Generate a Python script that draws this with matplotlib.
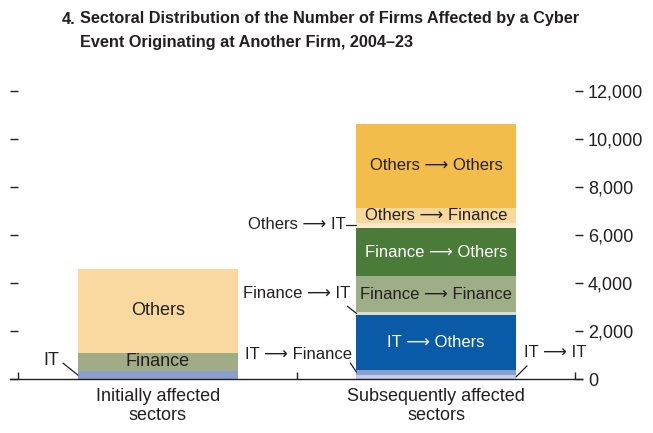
import matplotlib
matplotlib.use("Agg")
import matplotlib.pyplot as plt
import numpy as np

plt.rcParams['font.family'] = ['Liberation Sans', 'DejaVu Sans']

# data
categories = ['Initially affected\nsectors', 'Subsequently affected\nsectors']
left_labels = ['IT', 'Finance', 'Others']
left_values = [350, 760, 3490]
left_colors = ['#8b9fce', '#a0ac86', '#f9d9a0']

right_labels = ['IT ⟶ IT', 'IT ⟶ Finance', 'IT ⟶ Others',
                'Finance ⟶ IT', 'Finance ⟶ Finance', 'Finance ⟶ Others',
                'Others ⟶ IT', 'Others ⟶ Finance', 'Others ⟶ Others']
right_values = [200, 200, 2290, 120, 1490, 2000, 220, 625, 3490]
right_colors = ['#c6cde9', '#8a9fd0', '#0a5ba7',
                '#dcdfcd', '#9eae86', '#4a7b39',
                '#fde9cb', '#f9d89d', '#f3bd4b']

yticks = [0, 2000, 4000, 6000, 8000, 10000, 12000]

fig = plt.figure(figsize=(6.53, 4.33), dpi=100)
ax = fig.add_axes([0.0283, 0.124, 0.853, 0.665])

w = 0.573
hw = w / 2
fs = 13
afs = 12  # labels with arrows
txt = '#231f20'

bottom = 0
left_mid = []
for v, c in zip(left_values, left_colors):
    ax.bar(0, v, w, bottom=bottom, color=c, linewidth=0)
    left_mid.append(bottom + v / 2)
    bottom += v

bottom = 0
right_mid = []
for v, c in zip(right_values, right_colors):
    ax.bar(1, v, w, bottom=bottom, color=c, linewidth=0)
    right_mid.append(bottom + v / 2)
    bottom += v

# labels inside bars
ax.text(0, left_mid[1], left_labels[1], ha='center', va='center', fontsize=fs, color=txt)
ax.text(0, left_mid[2], left_labels[2], ha='center', va='center', fontsize=fs, color=txt)
white = {'IT ⟶ Others', 'Finance ⟶ Others'}
for i in [2, 4, 5, 7, 8]:
    ax.text(1, right_mid[i], right_labels[i], ha='center', va='center', fontsize=afs,
            color='white' if right_labels[i] in white else txt)

# leader-line labels
def leader(x, y, line_off, text_off, label, ha, size):
    ax.annotate('', xy=(x, y), xytext=line_off, textcoords='offset pixels',
                arrowprops=dict(arrowstyle='-', lw=0.9, color=txt, shrinkA=0, shrinkB=0))
    ax.annotate(label, xy=(x, y), xytext=text_off, textcoords='offset pixels',
                ha=ha, va='center', fontsize=size, color=txt)

leader(-hw, left_mid[0], (-15, 12), (-19, 15), left_labels[0], 'right', fs)
leader(1 - hw, right_mid[1], (-6, 9), (-4, 18), right_labels[1], 'right', afs)
leader(1 + hw, right_mid[0], (11, 11), (8, 24), right_labels[0], 'left', afs)
leader(1 - hw, right_mid[3], (-9, 7), (-6, 20), right_labels[3], 'right', afs)
leader(1 - hw, right_mid[6], (-10, 0), (-11, 1), right_labels[6], 'right', afs)

ax.set_xlim(-0.5, 1.5)
ax.set_ylim(0, 12000)
for s in ['top', 'left', 'right', 'bottom']:
    ax.spines[s].set_visible(False)
ax.axhline(0, xmin=-0.0145, xmax=1.0115, color=txt, lw=1.0, clip_on=False)

ax.set_xticks([0, 1])
ax.set_xticklabels(categories, fontsize=fs, color=txt)
ax.tick_params(axis='x', length=0, pad=6)
ax.set_xticks([-0.5, 0.5, 1.5], minor=True)
ax.tick_params(axis='x', which='minor', direction='in', length=5, width=1.0, color=txt)

ax.yaxis.set_ticks_position('both')
ax.set_yticks(yticks)
ax.tick_params(axis='y', direction='out', length=6, width=1.0, color=txt,
               labelleft=False, labelright=True, labelsize=fs, labelcolor=txt, pad=3)
ax.set_yticklabels([f'{v:,}' for v in yticks])

tfs = 11.7
fig.text(62 / 653, 1 - 19 / 433, '4.', fontsize=tfs, fontweight='bold', color=txt, va='center')
fig.text(80 / 653, 1 - 19 / 433, 'Sectoral Distribution of the Number of Firms Affected by a Cyber',
         fontsize=tfs, fontweight='bold', color=txt, va='center')
fig.text(80 / 653, 1 - 43 / 433, 'Event Originating at Another Firm, 2004–23',
         fontsize=tfs, fontweight='bold', color=txt, va='center')

fig.savefig('out.png', dpi=100)
